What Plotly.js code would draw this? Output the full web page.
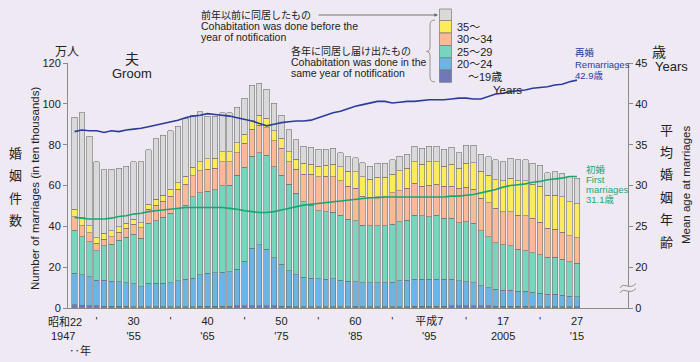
<!DOCTYPE html>
<html>
<head>
<meta charset="utf-8">
<script src="https://cdn.plot.ly/plotly-3.0.1.min.js"></script>
<style>html,body{margin:0;padding:0;background:#efe9f3;}#chart{width:700px;height:362px;}</style>
</head>
<body>
<div id="chart"></div>
<script>
// ---- DATA ----
const years = [1947,1948,1949,1950,1951,1952,1953,1954,1955,1956,
  1957,1958,1959,1960,1961,1962,1963,1964,1965,1966,
  1967,1968,1969,1970,1971,1972,1973,1974,1975,1976,
  1977,1978,1979,1980,1981,1982,1983,1984,1985,1986,
  1987,1988,1989,1990,1991,1992,1993,1994,1995,1996,
  1997,1998,1999,2000,2001,2002,2003,2004,2005,2006,
  2007,2008,2009,2010,2011,2012,2013,2014,2015];

// number of marriages (10 thousands), cohabitation in the same year, by groom's age
const ageUnder19 = [1.5,1.3,1.2,1.0,0.9,0.9,0.8,0.8,0.7,0.7,
  0.7,0.7,0.7,0.7,0.7,0.7,0.7,0.8,0.8,0.8,
  0.9,0.9,1.0,1.1,1.2,1.2,1.1,1.0,0.9,0.8,
  0.7,0.7,0.7,0.6,0.6,0.6,0.7,0.7,0.8,0.7,
  0.7,0.7,0.7,0.7,0.7,0.7,0.8,0.8,0.9,0.9,
  0.9,1.0,1.0,1.1,1.1,1.0,1.0,0.9,0.8,0.8,
  0.8,0.8,0.7,0.7,0.6,0.6,0.6,0.6,0.6];
const age20to24 = [15.5,15.0,14.1,12.7,12.8,12.3,12.1,11.6,11.1,9.7,
  11.4,11.4,11.4,11.7,12.7,13.3,13.8,15.4,16.2,16.4,
  16.7,16.9,17.9,21.9,28.0,29.7,27.8,23.6,20.6,17.5,
  15.5,14.3,13.8,13.8,13.6,13.8,13.0,12.5,12.1,11.7,
  11.7,11.7,11.7,11.9,12.7,13.0,13.4,13.4,13.3,13.3,
  13.3,13.2,12.4,11.8,11.3,9.9,8.9,8.2,8.0,8.0,
  7.5,7.5,7.0,6.5,6.1,6.1,5.6,5.2,4.9];
const age25to29 = [21.2,18.6,17.2,14.4,16.7,18.1,20.4,22.2,24.4,23.7,
  29.4,30.7,32.3,34.0,35.4,36.4,40.0,40.3,40.3,40.6,
  42.3,42.4,46.2,45.9,45.2,45.2,46.0,44.6,43.6,42.4,
  40.0,37.1,35.9,33.3,33.0,32.4,31.8,30.2,29.9,28.2,
  27.8,27.8,27.8,28.5,28.9,29.4,31.3,30.9,30.5,31.3,
  29.7,29.7,28.4,29.4,29.1,27.0,25.0,22.9,22.1,21.6,
  20.4,19.8,19.4,18.8,18.1,18.1,17.6,16.9,16.5];
const age30to34 = [6.5,5.4,4.4,3.6,3.2,3.6,3.9,4.4,4.8,5.2,
  6.8,7.6,8.0,8.4,9.3,10.3,10.3,10.8,10.6,10.6,
  11.8,11.5,11.0,11.7,13.1,13.5,13.4,12.7,13.1,11.0,
  11.7,13.5,15.2,16.6,17.4,17.5,16.9,16.3,15.8,14.2,
  14.0,14.3,14.3,15.4,15.2,15.5,15.5,14.6,15.5,15.2,
  15.8,15.8,16.8,16.8,16.6,15.8,16.7,16.8,16.3,16.8,
  16.8,17.0,16.8,16.0,14.2,13.8,13.3,12.8,12.5];
const age35plus = [3.6,3.8,3.4,2.7,3.0,3.0,2.6,2.5,2.4,2.5,
  2.6,2.8,2.9,3.3,3.3,3.9,4.1,4.4,5.1,4.9,
  4.9,4.9,4.9,4.6,4.2,4.9,4.6,4.9,4.9,4.9,
  4.9,5.2,4.9,5.2,5.4,6.2,6.8,7.4,8.2,9.5,
  8.8,9.5,9.5,9.1,9.8,9.8,10.7,10.8,11.5,11.0,
  9.8,10.8,9.8,11.7,13.1,13.4,13.5,13.9,15.2,16.3,
  16.9,17.3,16.8,17.7,16.3,16.7,17.4,16.6,16.6];
// cohabitation done before the year of notification
const cohabBefore = [45.1,51.5,43.9,37.3,31.0,30.0,28.6,28.0,28.3,29.9,
  26.5,29.6,29.4,28.6,27.7,28.3,25.6,24.4,21.0,20.7,
  19.0,19.0,17.3,17.5,17.5,15.5,14.2,13.4,11.4,10.6,
  9.5,8.5,8.2,8.2,7.7,7.7,6.9,7.0,6.8,6.9,
  6.5,6.8,6.8,6.9,7.1,6.8,7.6,7.7,7.6,7.6,
  8.2,8.2,7.7,9.0,8.6,8.3,9.0,9.8,9.3,9.8,
  10.1,10.1,10.1,10.3,11.0,11.5,11.5,12.2,12.4];

// mean age at marriage (years)
const remarriageAge = [36.6,36.8,36.7,36.7,36.5,36.7,36.6,36.8,36.9,37.0,
  37.2,37.4,37.6,37.8,38.0,38.3,38.5,38.6,38.8,38.7,
  38.6,38.5,38.3,38.1,37.9,37.6,37.3,37.5,37.7,37.8,
  37.9,37.9,38.0,38.3,38.6,38.9,39.1,39.4,39.7,39.9,
  40.1,40.3,40.3,40.1,40.2,40.3,40.3,40.4,40.5,40.5,
  40.5,40.6,40.7,40.7,40.6,40.6,40.9,41.2,41.3,41.5,
  41.6,41.7,41.9,42.0,42.1,42.3,42.4,42.7,42.9];
const firstMarriageAge = [26.1,26.0,25.9,25.9,25.9,26.0,26.2,26.3,26.5,26.6,
  26.8,26.9,27.0,27.1,27.2,27.3,27.3,27.3,27.3,27.3,
  27.3,27.2,27.1,26.9,26.8,26.7,26.7,26.8,27.0,27.2,
  27.4,27.6,27.7,27.8,27.9,28.0,28.1,28.2,28.3,28.4,
  28.5,28.5,28.6,28.6,28.6,28.6,28.6,28.6,28.6,28.6,
  28.6,28.7,28.7,28.8,28.9,29.1,29.3,29.5,29.8,30.0,
  30.1,30.2,30.4,30.5,30.7,30.8,30.9,31.1,31.1];

const xTickVals = [1950,1955,1960,1965,1970,1975,1980,1985,1990,1995,2000,2005,2010,2015];
const xTickText = ["'","30<br>'55","'","40<br>'65","'","50<br>'75","'","60<br>'85","'","平成7<br>'95","'","17<br>2005","'","27<br>'15"];
const leftTicks = [0,20,40,60,80,100,120];
const rightTickVals = [15,20,25,30,35,40,45];
const rightTickText = ['0','20','25','30','35','40','45'];

// ---- STYLE ----
const BG = '#efe9f3';
const FONT = 'Liberation Sans, Noto Sans CJK JP, sans-serif';
const TXT = '#222';
const AX = '#8a8a8a';
const C_U19 = '#7178b8', C_2024 = '#6cb5e2', C_2529 = '#77d5be', C_3034 = '#fbb995', C_35 = '#fcec5c', C_GRAY = '#d9d9d9';
const C_RE = '#2b3c9c', C_FIRST = '#1ca56f';

const series = [
  [ageUnder19, C_U19], [age20to24, C_2024], [age25to29, C_2529],
  [age30to34, C_3034], [age35plus, C_35], [cohabBefore, C_GRAY]
];
const traces = series.map(([vals, col]) => ({
  type: 'bar', x: years, y: vals, width: 0.74,
  marker: {color: col, line: {color: '#727272', width: 0.6}},
  hoverinfo: 'skip', showlegend: false
}));
traces.push({type:'scatter', mode:'lines', x: years, y: remarriageAge, yaxis:'y2',
  line:{color:C_RE, width:1.6}, hoverinfo:'skip', showlegend:false});
traces.push({type:'scatter', mode:'lines', x: years, y: firstMarriageAge, yaxis:'y2',
  line:{color:C_FIRST, width:1.6}, hoverinfo:'skip', showlegend:false});

// pixel -> paper helpers (plot area: x 68..628, y 63..308)
const L = 68, R = 72, T = 63, B = 54, W = 700 - L - R, H = 362 - T - B;
const X = px => (px - L) / W;
const Y = py => (362 - B - py) / H;

function ann(text, px, py, o) {
  o = o || {};
  return Object.assign({
    text: text, xref: 'paper', yref: 'paper', x: X(px), y: Y(py),
    xanchor: o.xa || 'center', yanchor: 'middle', showarrow: false,
    font: {family: FONT, size: o.size || 11, color: o.color || TXT}
  }, o.extra || {});
}

const annotations = [
  ann('万人', 67, 52, {size: 12}),
  ann('夫', 132, 58.5, {size: 14}),
  ann('Groom', 132, 73, {size: 13}),
  ann('前年以前に同居したもの', 199, 14.5, {xa: 'left', size: 10}),
  ann('Cohabitation was done before the', 199, 25.9, {xa: 'left', size: 10.5}),
  ann('year of notification', 199, 36.8, {xa: 'left', size: 10.5}),
  ann('各年に同居し届け出たもの', 289, 50.5, {xa: 'left', size: 10}),
  ann('Cohabitation was done in the', 289, 62.4, {xa: 'left', size: 10.5}),
  ann('same year of notification', 289, 73.3, {xa: 'left', size: 10.5}),
  ann('35～', 455, 27, {xa: 'left', size: 11}),
  ann('30～34', 455, 39.5, {xa: 'left', size: 11}),
  ann('25～29', 455, 52, {xa: 'left', size: 11}),
  ann('20～24', 455, 64.5, {xa: 'left', size: 11}),
  ann('～19歳', 466, 77, {xa: 'left', size: 11}),
  ann('Years', 491, 89.5, {xa: 'left', size: 11.5}),
  ann('再婚', 573, 53, {xa: 'left', size: 9.5, color: C_RE}),
  ann('Remarriages', 573, 64, {xa: 'left', size: 9.5, color: C_RE}),
  ann('42.9歳', 573, 75, {xa: 'left', size: 9.5, color: C_RE}),
  ann('初婚', 584, 169.5, {xa: 'left', size: 9.5, color: C_FIRST}),
  ann('First', 584, 179.5, {xa: 'left', size: 9.5, color: C_FIRST}),
  ann('marriages', 584, 189.5, {xa: 'left', size: 9.5, color: C_FIRST}),
  ann('31.1歳', 584, 199.5, {xa: 'left', size: 9.5, color: C_FIRST}),
  ann('歳', 659, 52, {size: 14}),
  ann('Years', 653, 66, {xa: 'left', size: 13}),
  ann('Number of marriages (in ten thousands)', 35, 189, {size: 11.5, extra: {textangle: -90}}),
  ann('Mean age at marriages', 686, 185, {size: 11.5, extra: {textangle: -90}}),
  ann('昭和22', 65, 322, {size: 11}),
  ann('1947', 63, 336, {size: 11}),
  ann('‥年', 80, 350, {size: 11})
];
['婚','姻','件','数'].forEach((c, i) => annotations.push(ann(c, 15, 153 + i * 22.5, {size: 13})));
['平','均','婚','姻','年','齢'].forEach((c, i) => annotations.push(ann(c, 666, 130 + i * 22.4, {size: 13})));
// arrow from upper note to the grey legend box
annotations.push({xref:'paper', yref:'paper', x: X(438), y: Y(15), ax: -121, ay: 0,
  text: '', showarrow: true, arrowhead: 2, arrowsize: 0.8, arrowwidth: 0.9, arrowcolor: '#666'});

const shapes = [];
const legendCols = [[C_GRAY, 9, 20.5], [C_35, 20.5, 33], [C_3034, 33, 45.5], [C_2529, 45.5, 57.8], [C_2024, 57.8, 70], [C_U19, 70, 82.3]];
legendCols.forEach(([c, y0, y1]) => shapes.push({type: 'rect', xref: 'paper', yref: 'paper',
  x0: X(439.5), x1: X(451.5), y0: Y(y1), y1: Y(y0), fillcolor: c, line: {color: '#777', width: 0.7}}));
// brace
const P = (a, b) => X(a).toFixed(5) + ',' + Y(b).toFixed(5);
shapes.push({type: 'path', xref: 'paper', yref: 'paper', line: {color: '#888', width: 0.9},
  path: 'M' + P(435, 20) + ' Q' + P(430, 20) + ' ' + P(430, 25) + ' L' + P(430, 47) +
        ' Q' + P(430, 51.5) + ' ' + P(426.5, 51.5) + ' Q' + P(430, 51.5) + ' ' + P(430, 56) +
        ' L' + P(430, 77) + ' Q' + P(430, 82) + ' ' + P(435, 82)});
// axis break on right axis
shapes.push({type: 'rect', xref: 'paper', yref: 'paper', layer: 'above',
  x0: X(625), x1: X(632), y0: Y(291), y1: Y(286.5), fillcolor: BG, line: {width: 0}});
[0, 5].forEach(d => shapes.push({type: 'path', xref: 'paper', yref: 'paper', layer: 'above',
  line: {color: '#888', width: 0.9},
  path: 'M' + P(620, 288 + d) + ' C' + P(624, 281 + d) + ' ' + P(629, 291 + d) + ' ' + P(636, 283.5 + d)}));

const layout = {
  width: 700, height: 362,
  margin: {l: L, r: R, t: T, b: B, pad: 0},
  paper_bgcolor: BG, plot_bgcolor: BG,
  barmode: 'stack', bargap: 0.26,
  font: {family: FONT, size: 11, color: TXT},
  xaxis: {range: [1946.12, 2021.9], showgrid: false, zeroline: false,
    showline: true, linecolor: AX, linewidth: 1,
    tickmode: 'array', tickvals: xTickVals, ticktext: xTickText,
    ticks: 'outside', ticklen: 3, tickcolor: 'rgba(0,0,0,0)',
    tickfont: {family: FONT, size: 11, color: TXT}, tickangle: 0},
  yaxis: {range: [0, 120], showgrid: false, zeroline: false,
    showline: true, linecolor: AX, linewidth: 1,
    tickmode: 'array', tickvals: leftTicks,
    ticks: 'outside', ticklen: 4, tickcolor: AX,
    tickfont: {family: FONT, size: 11, color: TXT}},
  yaxis2: {range: [15, 45], overlaying: 'y', side: 'right', showgrid: false, zeroline: false,
    showline: true, linecolor: AX, linewidth: 1,
    tickmode: 'array', tickvals: rightTickVals, ticktext: rightTickText,
    ticks: 'outside', ticklen: 4, tickcolor: AX,
    tickfont: {family: FONT, size: 11, color: TXT}},
  annotations: annotations,
  shapes: shapes
};

Plotly.newPlot('chart', traces, layout, {displayModeBar: false, staticPlot: true});
</script>
</body>
</html>
